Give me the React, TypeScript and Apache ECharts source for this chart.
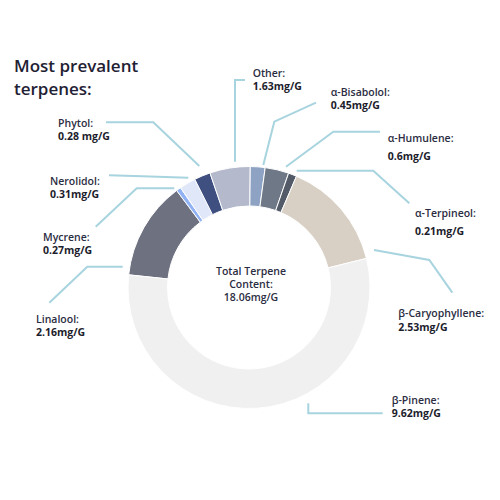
import React, { useEffect, useRef } from "react";
import * as echarts from "echarts";

// Terpene names (clockwise from the left, starting at Linalool)
const names = [
  "Linalool",
  "Mycrene",
  "Nerolidol",
  "Phytol",
  "Other",
  "α-Bisabolol",
  "α-Humulene",
  "α-Terpineol",
  "β-Caryophyllene",
  "β-Pinene",
];
// Label values as printed
const valueLabels = [
  "2.16mg/G",
  "0.27mg/G",
  "0.31mg/G",
  "0.28 mg/G",
  "1.63mg/G",
  "0.45mg/G",
  "0.6mg/G",
  "0.21mg/G",
  "2.53mg/G",
  "9.62mg/G",
];
// Slice sizes as drawn (share of the ring, in degrees)
const sliceShares = [47.3, 2.25, 7.85, 7.8, 19.4, 7.1, 11.4, 4.0, 53.0, 199.9];
const totalLabel = "18.06mg/G";

const colors = [
  "#6e7180",
  "#92b3f3",
  "#dfe7f9",
  "#3f4f7f",
  "#b4bacc",
  "#8ea3c3",
  "#6f7886",
  "#535b69",
  "#d9d0c5",
  "#f0f0f0",
];

// label layout: [left x, top y, line height, leader line points]
const labelPlacement: [number, number, number, number[][]][] = [
  [36, 312.7, 12.7, [[122.7, 266.7], [87.3, 266.7], [49.3, 302.7]]],
  [43, 230, 13.3, [[174.3, 188.3], [136.7, 188.3], [95.7, 226.7]]],
  [50, 174, 13.6, [[188.3, 177.8], [150, 176.5], [109, 175.3]]],
  [58, 116.8, 12.5, [[199.3, 166], [153.3, 122.3], [106, 122.3]]],
  [252.7, 66, 13.3, [[235, 161.7], [235, 80], [245, 80]]],
  [330.7, 86, 12.7, [[263.3, 165], [274.3, 121.7], [316, 102.7]]],
  [387.7, 129.6, 17.4, [[286, 166.7], [333.3, 131.7], [380, 131.7]]],
  [415, 203.5, 18.3, [[296.7, 170.7], [373.3, 170.7], [409.3, 203.3]]],
  [398.3, 306.3, 14, [[374, 250], [429.3, 260], [452.3, 292.7]]],
  [391.7, 393.3, 13.3, [[308.3, 403.3], [308.3, 413.3], [382.7, 413.3]]],
];

const FONT = "Open Sans";
const TEXT = "#2b2d42";

export default function App() {
  const ref = useRef<HTMLDivElement>(null);
  useEffect(() => {
    document.body.style.margin = "0";
    const chart = echarts.init(ref.current!, null, { renderer: "svg" });
    const data = names.map((n, i) => ({
      name: n,
      value: sliceShares[i],
      itemStyle: { color: colors[i] },
      label: {
        formatter: `{n|${n}:}\n{v|${valueLabels[i]}}`,
        rich: {
          n: {
            fontFamily: FONT,
            fontSize: 10.5,
            fontWeight: 600,
            color: TEXT,
            lineHeight: labelPlacement[i][2],
          },
          v: {
            fontFamily: FONT,
            fontSize: 10.5,
            fontWeight: 700,
            color: "#1c1d2c",
            lineHeight: labelPlacement[i][2],
          },
        },
      },
    }));
    chart.setOption({
      animation: false,
      title: {
        text: "Most prevalent\nterpenes:",
        left: 9,
        top: 49,
        textStyle: {
          fontFamily: FONT,
          fontSize: 17,
          fontWeight: 600,
          color: "#1f2134",
          lineHeight: 23.3,
        },
      },
      graphic: [
        {
          type: "text",
          x: 251,
          y: 284,
          style: {
            text: `Total Terpene\nContent:\n${totalLabel}`,
            fontFamily: FONT,
            fontSize: 10.5,
            fontWeight: 600,
            fill: TEXT,
            lineHeight: 13.3,
            align: "center",
            verticalAlign: "middle",
          },
        },
      ],
      series: [
        {
          type: "pie",
          center: [249, 287.5],
          radius: [81.5, 121],
          startAngle: 174,
          clockwise: true,
          avoidLabelOverlap: false,
          itemStyle: { borderColor: "#ffffff", borderWidth: 1 },
          emphasis: { disabled: true },
          label: { show: true, position: "outside" },
          labelLine: {
            show: true,
            lineStyle: { color: "#a8d4df", width: 2 },
          },
          labelLayout: (params: any) => {
            const p = labelPlacement[params.dataIndex];
            return {
              x: p[0],
              y: p[1],
              align: "left",
              verticalAlign: "top",
              labelLinePoints: p[3].map((pt) => [pt[0], pt[1]]),
            };
          },
          data,
        },
      ],
    });
    return () => chart.dispose();
  }, []);
  return <div ref={ref} style={{ width: 500, height: 500 }} />;
}
